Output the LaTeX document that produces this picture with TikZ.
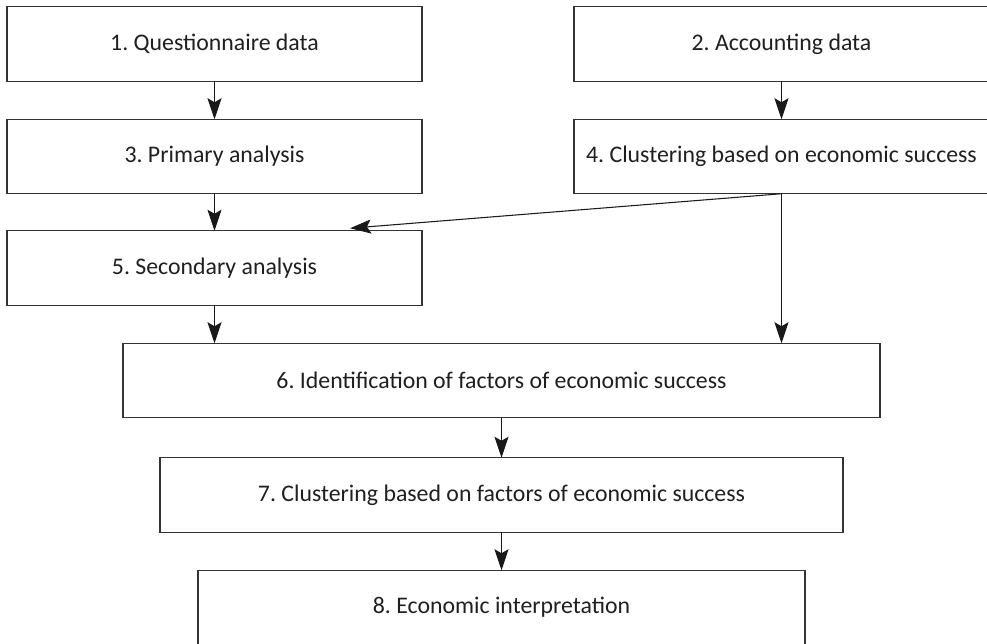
\documentclass[tikz,border=0pt]{standalone}
\usepackage{fontspec}
\setmainfont{Carlito}
\usetikzlibrary{arrows.meta,positioning}
\frenchspacing

\begin{document}
\begin{tikzpicture}[
  node distance=0.76cm and 3.04cm,
  box/.style={draw=black!80, line width=0.6pt, align=center, minimum width=8.3cm, minimum height=1.49cm, inner sep=0pt, outer sep=0pt, font=\fontsize{13.55}{16}\selectfont, text=black!88},
  arrow/.style={-{Stealth[length=0.42cm, width=0.28cm, inset=0.08cm]}, line width=0.6pt, black!90}
]
\useasboundingbox (0,0) rectangle (19.74,-12.88);

\node[box] (quest) at (4.29,-0.88) {1. Questionnaire data};
\node[box, right=of quest] (acc) {2. Accounting data};

\node[box, below=of quest] (primary) {3. Primary analysis};
\node[box, below=of acc] (clus4) {4. Clustering based on economic success};

\node[box, below=0.74cm of primary] (secondary) {5. Secondary analysis};

\node[box, minimum width=15.14cm, below=0.76cm of secondary, xshift=5.74cm] (ident) {6. Identification of factors of economic success};
\node[box, minimum width=13.66cm, below=0.8cm of ident] (clus7) {7. Clustering based on factors of economic success};
\node[box, minimum width=12.14cm, below=0.76cm of clus7] (interp) {8. Economic interpretation};

\coordinate (in5) at ([xshift=-1.44cm, yshift=0.05cm]secondary.north east);

\draw[arrow] (quest) -- (primary);
\draw[arrow] (acc) -- (clus4);
\draw[arrow] (primary) -- (secondary);
\draw[arrow] (clus4.south) -- (in5);
\draw[arrow] (secondary.south) -- (secondary.south |- ident.north);
\draw[arrow] (clus4.south) -- (clus4.south |- ident.north);
\draw[arrow] (ident.south) -- (ident.south |- clus7.north);
\draw[arrow] (clus7.south) -- (clus7.south |- interp.north);
\end{tikzpicture}
\end{document}
